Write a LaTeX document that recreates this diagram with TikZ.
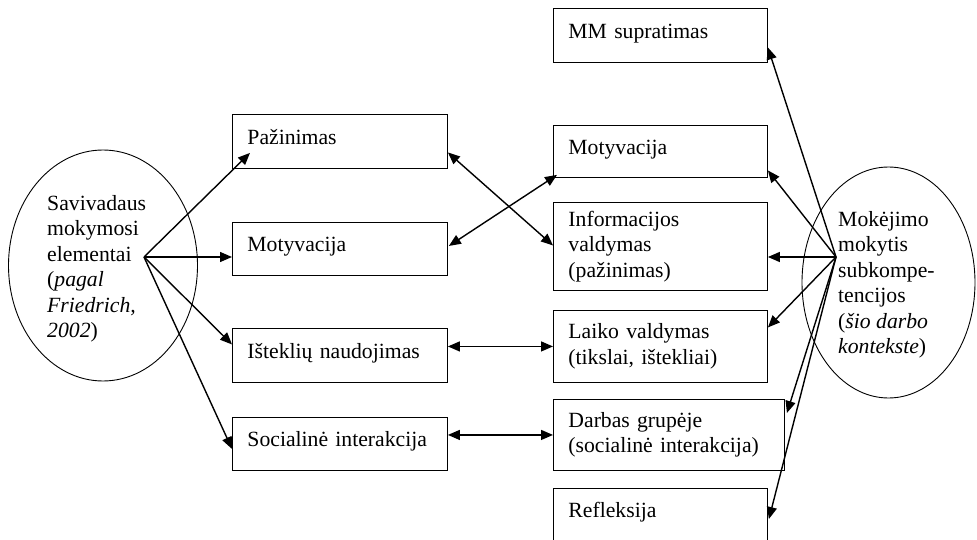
\documentclass[tikz,border=0pt]{standalone}
\usepackage{fontspec}
\setmainfont{Liberation Serif}
\usetikzlibrary{arrows.meta,shapes.geometric,calc}
\begin{document}
\begin{tikzpicture}[x=1pt,y=-1pt,
  every node/.style={font=\fontsize{21.7}{25.5}\selectfont},
  box/.style={draw, line width=0.9pt, anchor=north west, inner xsep=15pt, inner ysep=2pt, align=left},
  onebox/.style={box, text depth=9pt},
  oval/.style={draw, ellipse, line width=0.9pt, inner sep=0pt},
  txt/.style={anchor=west, align=left, inner sep=0pt},
  arr/.style={-{Triangle[length=12pt,width=10pt]}, line width=1.4pt},
  arrb/.style={{Triangle[length=12pt,width=10pt]}-{Triangle[length=12pt,width=10pt]}, line width=1.4pt}]
\useasboundingbox (0,0) rectangle (977,540);
% left ellipse
\node[oval, minimum width=189pt, minimum height=231pt] (le) at (103,265.5) {};
\node[txt] (let) at (47,269) {Savivadaus\\mokymosi\\elementai\\(\textit{pagal}\\\textit{Friedrich,}\\\textit{2002})};
% right ellipse
\node[oval, minimum width=173pt, minimum height=231pt] (re) at (888.5,282.5) {};
\node[txt] (ret) at (838,285) {Mokėjimo\\mokytis\\subkompe-\\tencijos\\(\textit{šio darbo}\\\textit{kontekste})};
% left boxes
\node[onebox, text width=185pt, minimum height=54pt] (pz) at (232,114) {Pažinimas};
\node[onebox, text width=185pt, minimum height=53pt] (mo) at (232,222) {Motyvacija};
\node[onebox, text width=185pt, minimum height=54pt] (is) at (232,328) {Išteklių naudojimas};
\node[onebox, text width=185pt, minimum height=53pt] (so) at (232,417) {Socialinė interakcija};
% right boxes
\node[onebox, text width=184pt, minimum height=54pt] (mm) at (553,8) {MM supratimas};
\node[onebox, text width=184pt, minimum height=52pt] (mr) at (553,125) {Motyvacija};
\node[box, text width=184pt, minimum height=88pt] (inf) at (553,202) {Informacijos\\valdymas\\(pažinimas)};
\node[box, text width=184pt, minimum height=72pt] (lk) at (553,310) {Laiko valdymas\\(tikslai, ištekliai)};
\node[box, text width=201pt, minimum height=71pt] (dg) at (553,399) {Darbas grupėje\\(socialinė interakcija)};
\node[box, text width=184pt, minimum height=57pt, text depth=15pt] (rf) at (553,488) {Refleksija};
% hubs
\coordinate (hl) at (144,257);
\coordinate (hr) at (836,257);
% left fan
\draw[arr] (hl) -- ($(pz.south west)+(18,-16)$);
\draw[arr] (hl) -- (hl -| mo.west);
\draw[arr] (hl) -- ($(is.west)+(0,-11)$);
\draw[arr] (hl) -- ($(so.west)+(0,5)$);
% middle links
\draw[arrb] ($(pz.east)+(0,11)$) -- ($(inf.west)+(0,-1)$);
\draw[arrb] ($(mo.east)+(1,-3)$) -- ($(mr.south west)+(4,-3)$);
\draw[arrb] (is.east |- lk.west) -- (lk.west);
\draw[arrb] (so.east |- dg.west) -- (dg.west);
% right fan
\draw[arr] (hr) -- ($(mm.east)+(0,12)$);
\draw[arr] (hr) -- ($(mr.east)+(0,19)$);
\draw[arr] (hr) -- (hr -| inf.east);
\draw[arr] (hr) -- ($(lk.east)+(0,-19)$);
\draw[arr] (hr) -- ($(dg.north east)+(2,14)$);
\draw[arr] (hr) -- ($(rf.north east)+(1,31)$);
\end{tikzpicture}
\end{document}
